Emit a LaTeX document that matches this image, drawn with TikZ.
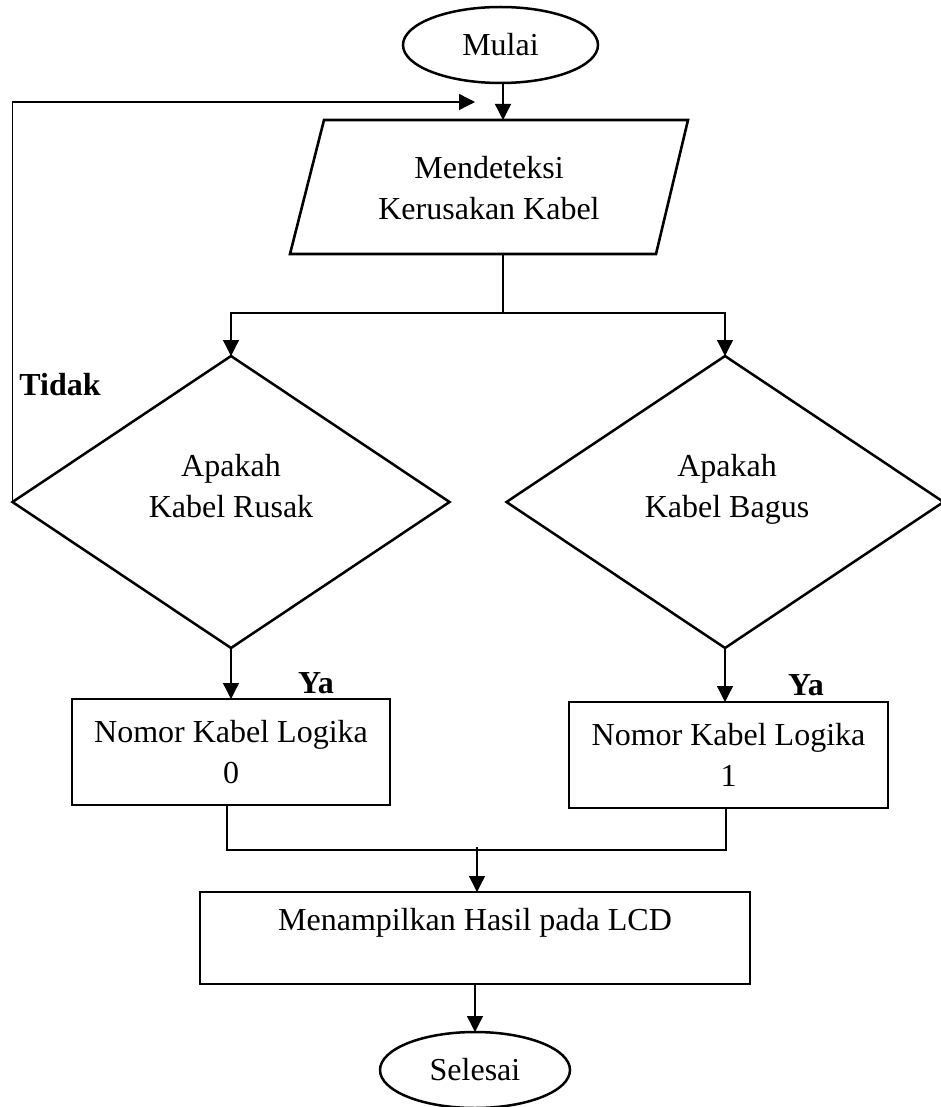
\documentclass[tikz,border=0pt]{standalone}
\usepackage{fontspec}
\setmainfont{Liberation Serif}
\usetikzlibrary{arrows.meta,shapes.geometric}
\begin{document}
\begin{tikzpicture}[x=0.5pt,y=-0.5pt,
  every node/.style={font=\fontsize{16pt}{20.5pt}\selectfont, align=center, inner sep=0pt, outer sep=0pt},
  term/.style={draw, ellipse, line width=1.25pt, minimum width=97.5pt, minimum height=38pt},
  para/.style={draw, line width=1.3pt},
  dec/.style={draw, diamond, line width=1.25pt, minimum width=218.5pt, minimum height=146pt},
  proc/.style={draw, rectangle, line width=0.8pt},
  conn/.style={line width=0.65pt},
  arr/.style={conn, -{Triangle[length=8pt,width=8pt]}},
  lbl/.style={font=\fontsize{16pt}{20.5pt}\selectfont\bfseries}
]
\useasboundingbox[fill=white] (0,0) rectangle (941,1107);

% start
\node[term] (mulai) at (500.5,45) {Mulai};

% parallelogram
\coordinate (dtl) at (324,120);
\coordinate (dtr) at (688,120);
\coordinate (dbr) at (656,254);
\coordinate (dbl) at (290,254);
\draw[para] (dtl) -- (dtr) -- (dbr) -- (dbl) -- cycle;
\node (detect) at (489,188) {Mendeteksi\\Kerusakan Kabel};
\coordinate (dtop) at (503,120);
\coordinate (dbot) at (503,254);

% decisions
\node[dec] (q1) at (231,502) {};
\node[anchor=north] (q1t) at (231,454) {Apakah\\Kabel Rusak};
\node[dec] (q2) at (725,502) {};
\node[anchor=north] (q2t) at (727,454) {Apakah\\Kabel Bagus};

% process boxes
\node[proc, minimum width=159pt, minimum height=53pt] (r0) at (231,752) {Nomor Kabel Logika\\0};
\node[proc, minimum width=159.5pt, minimum height=53pt] (r1) at (728.5,755) {Nomor Kabel Logika\\1};
\node[proc, minimum width=275pt, minimum height=46pt] (show) at (475,938) {};
\node (showt) at (475,923) {Menampilkan Hasil pada LCD};

% end
\node[term, minimum width=95pt] (selesai) at (475,1070) {Selesai};

% labels
\node[lbl] (tidak) at (60,385) {Tidak};
\node[lbl] (ya1) at (316,683) {Ya};
\node[lbl] (ya2) at (806,685) {Ya};

% connectors
\draw[arr] (mulai.south -| dtop) -- (dtop);
\coordinate (loopend) at (475,102);
\draw[arr] (q1.west) -- (q1.west |- loopend) -- (loopend);

\coordinate (split) at (503,313);
\draw[conn] (dbot) -- (split);
\draw[arr] (split) -| (q1.north);
\draw[arr] (split) -| (q2.north);

\draw[arr] (q1.south) -- (r0.north);
\draw[arr] (q2.south) -- (q2.south |- r1.north);

\coordinate (mL) at (227,850);
\coordinate (mR) at (726,850);
\coordinate (mC) at (477,847);
\draw[conn] (r0.south -| mL) -- (mL) -- (mR) -- (r1.south -| mR);
\draw[arr] (mC) -- (mC |- show.north);

\draw[arr] (show.south) -- (selesai.north);
\end{tikzpicture}
\end{document}
